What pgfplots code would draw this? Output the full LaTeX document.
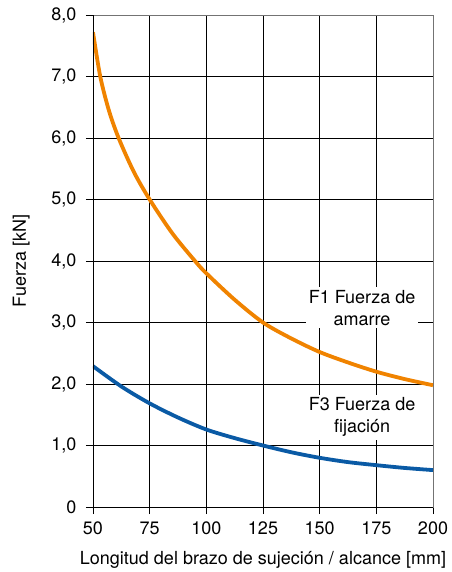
\documentclass[border=0pt]{standalone}
\usepackage{fontspec}
\setmainfont{TeX Gyre Heros}
\usepackage{pgfplots}
\pgfplotsset{compat=1.18}
\definecolor{fOrange}{HTML}{F08300}
\definecolor{fBlue}{HTML}{0A5AA5}
\begin{document}
\begin{tikzpicture}
\begin{axis}[
    scale only axis,
    width=340pt, height=492pt,
    xmin=50, xmax=200, ymin=0, ymax=8,
    xtick={50,75,...,200},
    xticklabels={50,75,100,125,150,175,200},
    ytick={0,1,...,8},
    yticklabels={0,{1,0},{2,0},{3,0},{4,0},{5,0},{6,0},{7,0},{8,0}},
    xtick pos=bottom, ytick pos=left,
    tick align=outside,
    major tick length=7pt,
    tick style={black, line width=0.8pt},
    grid=major,
    major grid style={black, line width=0.8pt},
    axis line style={black!55, line width=0.8pt},
    xticklabel style={font=\fontsize{18pt}{21pt}\selectfont, yshift=-4pt},
    yticklabel style={font=\fontsize{18pt}{21pt}\selectfont, xshift=-6pt},
    xlabel={Longitud del brazo de sujeción / alcance [mm]},
    ylabel={Fuerza [kN]},
    xlabel style={font=\fontsize{18pt}{21pt}\selectfont, yshift=-10pt},
    ylabel style={font=\fontsize{18pt}{21pt}\selectfont, yshift=15pt},
]
% F1 Fuerza de amarre
\addplot[fOrange, line width=3.8pt, smooth] coordinates {
    (50,7.72) (53.2,7.0) (57,6.45) (61.3,6.0) (68,5.45) (75,5.0)
    (85,4.45) (95,4.0) (100,3.8) (112.5,3.37) (125,3.0)
    (137.5,2.74) (150,2.52) (162.5,2.35) (175,2.2) (187.5,2.08) (200,1.98)
};
% F3 Fuerza de fijacion
\addplot[fBlue, line width=3.8pt, smooth] coordinates {
    (50,2.29) (62.5,1.96) (75,1.685) (87.5,1.455) (100,1.26)
    (112.5,1.12) (125,1.0) (137.5,0.89) (150,0.80)
    (162.5,0.73) (175,0.68) (187.5,0.635) (200,0.60)
};
\draw[black, line width=0.8pt] (axis cs:50,0) -- (axis cs:50,8);
\draw[black, line width=0.8pt] (axis cs:50,0) -- (axis cs:200,0);
\node[fill=white, align=center, font=\fontsize{18pt}{22pt}\selectfont, inner sep=3pt] at (axis cs:168.7,3.24) {F1 Fuerza de\\amarre};
\node[fill=white, align=center, font=\fontsize{18pt}{22pt}\selectfont, inner sep=3pt] at (axis cs:168.7,1.46) {F3 Fuerza de\\fijación};
\end{axis}
\pgfresetboundingbox
\path[use as bounding box] (-93pt,-65pt) rectangle (358pt,507pt);
\end{tikzpicture}
\end{document}
